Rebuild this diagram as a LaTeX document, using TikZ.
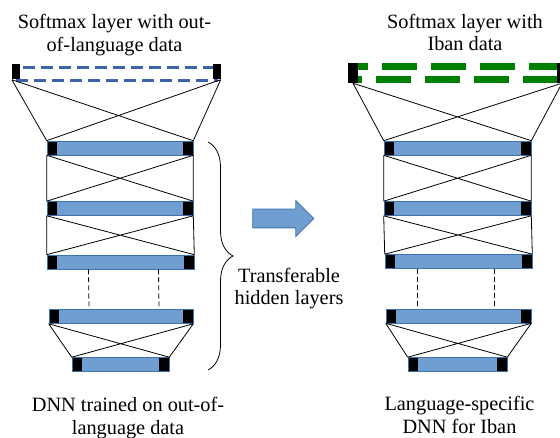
\documentclass[tikz,border=0pt]{standalone}
\usepackage{fontspec}
\setmainfont{Liberation Serif}
\usetikzlibrary{shapes.arrows, decorations.pathreplacing}

\definecolor{barblue}{RGB}{112,158,208}
\definecolor{barline}{RGB}{65,113,170}
\definecolor{softblue}{RGB}{60,100,170}
\definecolor{softgreen}{RGB}{0,128,0}

\begin{document}
\begin{tikzpicture}[
    x=1pt, y=-1pt,
    font=\fontsize{20.3}{22.5}\selectfont,
    layerbar/.style={rectangle, draw=barline, line width=0.6pt, fill=barblue, inner sep=0pt, minimum height=14pt,
        path picture={\fill[black] (path picture bounding box.north west) rectangle ([xshift=10pt]path picture bounding box.south west);
                      \fill[black] (path picture bounding box.north east) rectangle ([xshift=-10pt]path picture bounding box.south east);}},
    unitbox/.style={rectangle, fill=black, inner sep=0pt, minimum width=8pt, minimum height=15pt},
    softsrc/.style={rectangle, draw=softblue, line width=2.5pt, dash pattern=on 12pt off 6pt, inner sep=0pt},
    softiban/.style={softgreen, line width=7pt, dash pattern=on 35pt off 14pt},
    wire/.style={line width=0.8pt},
    skipwire/.style={line width=0.8pt, dash pattern=on 5pt off 3pt},
    fatarrow/.style={single arrow, draw=barline, fill=barblue, line width=0.8pt, inner xsep=0pt, inner ysep=9pt, single arrow head extend=8.5pt},
    notetext/.style={align=center, inner sep=0pt}
]
\useasboundingbox (0,0) rectangle (560,438);

% ---------- source DNN ----------
\node[softsrc, minimum width=201pt, minimum height=13.4pt] (srcS) at (116.5,74) {};
\node[unitbox] (srcSl) at (16,72) {};
\node[unitbox] (srcSr) at (216.5,72) {};

\node[layerbar, minimum width=146pt] (srcH1) at (120,148) {};
\node[layerbar, minimum width=146pt] (srcH2) at (120,208.5) {};
\node[layerbar, minimum width=147pt] (srcH3) at (120.5,262) {};
\node[layerbar, minimum width=144pt] (srcH4) at (121,316.5) {};
\node[layerbar, minimum width=97pt] (srcH5) at (120.5,364.5) {};

% ---------- Iban DNN ----------
\node[minimum width=209pt, minimum height=12pt, inner sep=0pt] (ibanS) at (457.5,73) {};
\draw[softiban, dash phase=19.7pt] (ibanS.north west) -- (ibanS.north east);
\draw[softiban, dash phase=26pt] (ibanS.south west) -- (ibanS.south east);
\node[unitbox, minimum width=10pt, minimum height=20pt] (ibanSl) at (353,73) {};
\node[unitbox, minimum width=10pt, minimum height=20pt] (ibanSr) at (562,73) {};

\node[layerbar, minimum width=147pt] (ibanH1) at (457.5,148) {};
\node[layerbar, minimum width=147pt] (ibanH2) at (457.5,208.5) {};
\node[layerbar, minimum width=147pt] (ibanH3) at (458.5,261.5) {};
\node[layerbar, minimum width=145pt] (ibanH4) at (458.5,316) {};
\node[layerbar, minimum width=99pt] (ibanH5) at (457.5,364.5) {};

% ---------- connections ----------
\draw[wire] (srcSl.south west) -- (srcH1.north west) (srcSl.south west) -- (srcH1.north east)
            (srcSr.south east) -- (srcH1.north east) (srcSr.south east) -- (srcH1.north west);
\draw[wire] (srcH1.south west) -- (srcH2.north west) (srcH1.south west) -- (srcH2.north east)
            (srcH1.south east) -- (srcH2.north east) (srcH1.south east) -- (srcH2.north west);
\draw[wire] (srcH2.south west) -- (srcH3.north west) (srcH2.south west) -- (srcH3.north east)
            (srcH2.south east) -- (srcH3.north east) (srcH2.south east) -- (srcH3.north west);
\draw[skipwire] ([xshift=-32pt]srcH3.south) -- ([xshift=-32pt]srcH4.north)
                ([xshift=38pt]srcH3.south) -- ([xshift=38pt]srcH4.north);
\draw[wire] (srcH4.south west) -- (srcH5.north west) (srcH4.south west) -- (srcH5.north east)
            (srcH4.south east) -- (srcH5.north east) (srcH4.south east) -- (srcH5.north west);

\draw[wire] (ibanSl.south) -- (ibanH1.north west) (ibanSl.south) -- (ibanH1.north east)
            (ibanSr.south) -- (ibanH1.north east) (ibanSr.south) -- (ibanH1.north west);
\draw[wire] (ibanH1.south west) -- (ibanH2.north west) (ibanH1.south west) -- (ibanH2.north east)
            (ibanH1.south east) -- (ibanH2.north east) (ibanH1.south east) -- (ibanH2.north west);
\draw[wire] (ibanH2.south west) -- (ibanH3.north west) (ibanH2.south west) -- (ibanH3.north east)
            (ibanH2.south east) -- (ibanH3.north east) (ibanH2.south east) -- (ibanH3.north west);
\draw[skipwire] ([xshift=-41pt]ibanH3.south) -- ([xshift=-41pt]ibanH4.north)
                ([xshift=36pt]ibanH3.south) -- ([xshift=36pt]ibanH4.north);
\draw[wire] (ibanH4.south west) -- (ibanH5.north west) (ibanH4.south west) -- (ibanH5.north east)
            (ibanH4.south east) -- (ibanH5.north east) (ibanH4.south east) -- (ibanH5.north west);

% ---------- transfer ----------
\coordinate (braceTop) at (208,142);
\coordinate (braceBottom) at (208,370);
\draw[line width=0.8pt, decorate, decoration={brace, amplitude=25pt}] (braceTop) -- (braceBottom);
\node[fatarrow, minimum height=61pt, minimum width=35pt] (shift) at (278.5,218.5) {};

% ---------- text ----------
\node[notetext] (srcTop) at (114.5,35) {Softmax layer with out-\\of-language data};
\node[notetext] (ibanTop) at (465,32.5) {Softmax layer with\\Iban data};
\node[notetext] (transfer) at (289,288.6) {Transferable\\hidden layers};
\node[notetext] (srcBottom) at (128,418) {DNN trained on out-of-\\language data};
\node[notetext] (ibanBottom) at (459.5,415) {Language-specific\\DNN for Iban};

\end{tikzpicture}
\end{document}
